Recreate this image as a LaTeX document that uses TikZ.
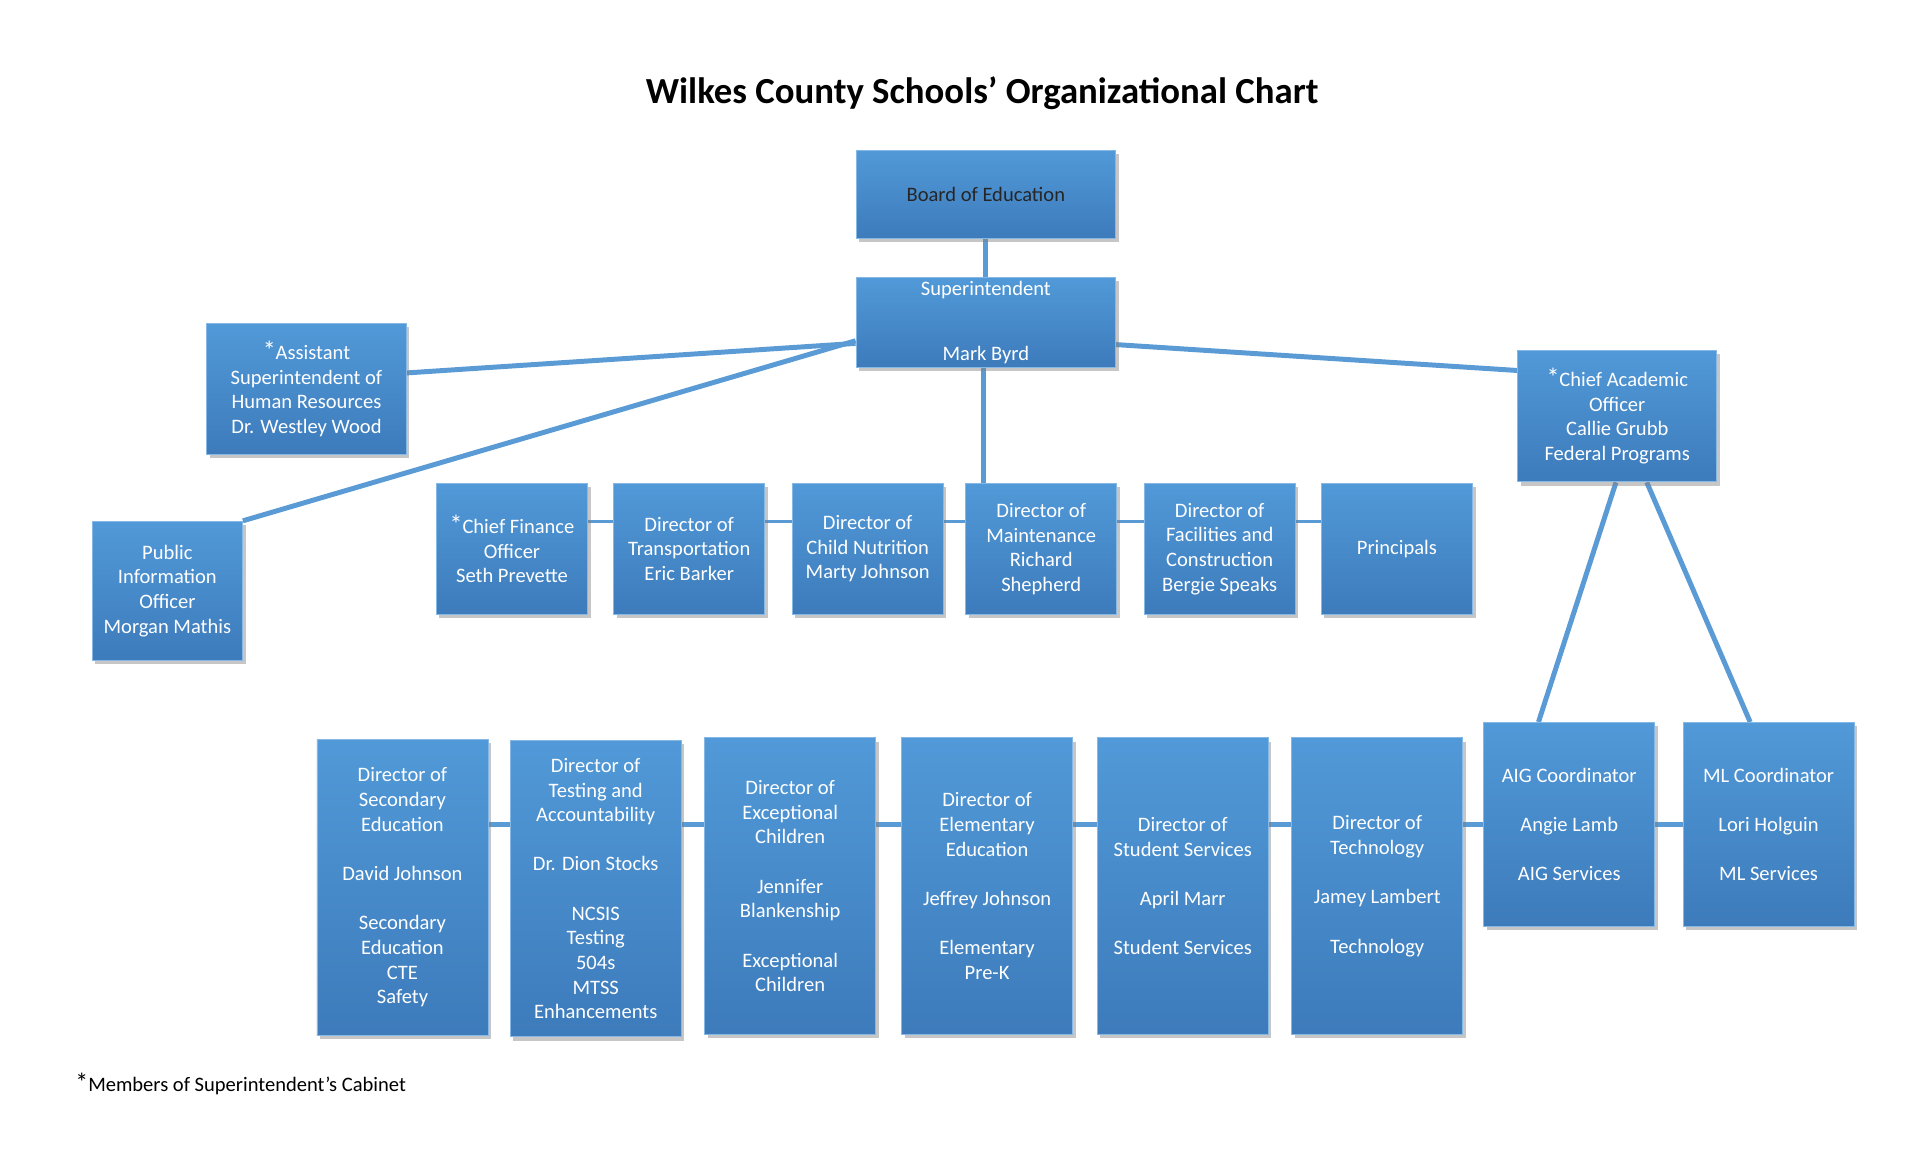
\documentclass[tikz,border=0pt]{standalone}
\usepackage{fontspec}
\setmainfont{Carlito}
\usetikzlibrary{shadows,backgrounds}
\definecolor{boxtop}{HTML}{5199D8}
\definecolor{boxbot}{HTML}{3D7BBB}
\definecolor{linkblue}{HTML}{5B9BD5}
\tikzset{
  orgbox/.style={draw=boxtop!70!white, line width=.4pt, top color=boxtop, bottom color=boxbot,
    text=white, align=center, inner sep=1pt, font=\fontsize{9.5}{11.4}\selectfont,
    drop shadow={shadow xshift=.05cm, shadow yshift=-.06cm, opacity=.45}},
  link/.style={draw=linkblue, line width=2.3pt}
}
\newcommand{\cabstar}{{\large *}}
\begin{document}
\begin{tikzpicture}[x=0.02cm, y=-0.02cm]
\useasboundingbox (0,0) rectangle (1560,947);

\node[font=\bfseries\fontsize{17}{20}\selectfont] (title) at (798,76) {Wilkes County Schools’ Organizational Chart};

% top
\node[orgbox, text=black!85, minimum width=4.22cm, minimum height=1.44cm] (board) at (801,158) {Board of Education};
\node[orgbox, minimum width=4.22cm, minimum height=1.46cm] (super) at (801,262) {Superintendent\\[19pt]Mark Byrd};
\node[orgbox, minimum width=3.24cm, minimum height=2.12cm] (asst) at (249,316) {\cabstar Assistant\\Superintendent of\\Human Resources\\Dr. Westley Wood};
\node[orgbox, minimum width=2.44cm, minimum height=2.26cm] (pio) at (136,480) {Public\\Information\\Officer\\Morgan Mathis};
\node[orgbox, minimum width=3.24cm, minimum height=2.14cm] (cao) at (1314,338) {\cabstar Chief Academic\\Officer\\Callie Grubb\\Federal Programs};

% row one
\tikzset{rowone/.style={orgbox, minimum width=2.46cm, minimum height=2.14cm}}
\node[rowone] (cfo) at (416,446) {\cabstar Chief Finance\\Officer\\Seth Prevette};
\node[rowone] (trans) at (560,446) {Director of\\Transportation\\Eric Barker};
\node[rowone] (nutr) at (705,446) {Director of\\Child Nutrition\\Marty Johnson};
\node[rowone] (maint) at (846,446) {Director of\\Maintenance\\Richard\\Shepherd};
\node[rowone] (facil) at (991,446) {Director of\\Facilities and\\Construction\\Bergie Speaks};
\node[rowone] (princ) at (1135,446) {Principals};

% row two
\tikzset{rowtwo/.style={orgbox, minimum width=2.78cm, minimum height=4.82cm}}
\node[rowtwo] (sec) at (327,721) {Director of\\Secondary\\Education\\~\\David Johnson\\~\\Secondary\\Education\\CTE\\Safety};
\node[rowtwo] (test) at (484,722) {Director of\\Testing and\\Accountability\\~\\Dr. Dion Stocks\\~\\NCSIS\\Testing\\504s\\MTSS\\Enhancements};
\node[rowtwo] (exc) at (642,720) {Director of\\Exceptional\\Children\\~\\Jennifer\\Blankenship\\~\\Exceptional\\Children};
\node[rowtwo] (elem) at (802,720) {Director of\\Elementary\\Education\\~\\Jeffrey Johnson\\~\\Elementary\\Pre-K};
\node[rowtwo] (stud) at (961,720) {Director of\\Student Services\\~\\April Marr\\~\\Student Services};
\node[rowtwo] (tech) at (1119,720) {Director of\\Technology\\~\\Jamey Lambert\\~\\Technology};
\node[orgbox, minimum width=2.78cm, minimum height=3.32cm] (aig) at (1275,670) {AIG Coordinator\\~\\Angie Lamb\\~\\AIG Services};
\node[orgbox, minimum width=2.78cm, minimum height=3.32cm] (ml) at (1437,670) {ML Coordinator\\~\\Lori Holguin\\~\\ML Services};

\node[anchor=west, font=\fontsize{9.5}{11.4}\selectfont] (note) at (55,881) {\cabstar Members of Superintendent’s Cabinet};

\begin{scope}[on background layer]
\draw[link] (board) -- (super);
\draw[link] ([yshift=-.34cm]super.west) -- ([yshift=.26cm]asst.east);
\draw[link] ([yshift=.44cm]super.south west) -- (pio.north east);
\draw[link] ([yshift=-.36cm]super.east) -- ([yshift=.74cm]cao.west);
\draw[link] ([xshift=-.04cm]super.south) -- ([xshift=-.04cm]super.south |- maint.north);
\draw[link] ([xshift=-.02cm]cao.south) -- ([xshift=-.5cm]aig.north);
\draw[link] ([xshift=.48cm]cao.south) -- ([xshift=-.3cm]ml.north);
\draw[linkblue, line width=1.5pt] ([yshift=.44cm]cfo.center) -- ([yshift=.44cm]princ.center);
\draw[linkblue, line width=2.3pt] (sec.center |- aig.center) -- (ml.center);
\end{scope}
\end{tikzpicture}
\end{document}
